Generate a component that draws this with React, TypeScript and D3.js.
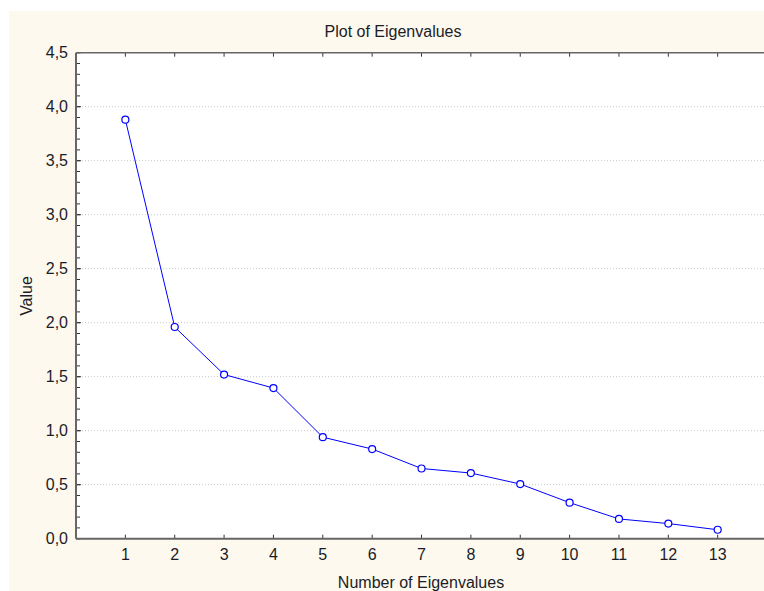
import React from "react";
import * as d3 from "d3";

const eigenNumbers = [1, 2, 3, 4, 5, 6, 7, 8, 9, 10, 11, 12, 13];
const eigenValues = [3.88, 1.96, 1.52, 1.395, 0.94, 0.83, 0.65, 0.608, 0.506, 0.334, 0.183, 0.14, 0.083];
const yTicks = [0, 0.5, 1, 1.5, 2, 2.5, 3, 3.5, 4, 4.5];
const titleText = "Plot of Eigenvalues";
const xLabel = "Number of Eigenvalues";
const yLabel = "Value";

export default function App() {
  const W = 764, H = 591;
  const left = 76, top = 52.7, bottom = 538.7;
  const x = d3.scaleLinear().domain([0, 14]).range([left, left + 14 * 49.36]);
  const y = d3.scaleLinear().domain([0, 4.5]).range([bottom, top]);
  const minor = d3.range(0, 4.5001, 0.1);
  const line = d3.line<number>().x((_, i) => x(eigenNumbers[i])).y((d) => y(d));
  const fmt = (v: number) => d3.format(".1f")(v).replace(".", ",");
  const font = "'Liberation Sans', Arial, sans-serif";
  const fs = 16;
  const tc = "#1c1c28";
  return (
    <svg width={W} height={H} style={{ position: "absolute", left: 0, top: 0, background: "#fff" }}>
      <rect x={9} y={11} width={W - 9} height={H - 11} fill="#fdf9ee" />
      <rect x={left} y={top} width={W - left} height={bottom - top} fill="#fff" />
      {yTicks.filter((t) => t > 0 && t < 4.5).map((t) => (
        <line key={"g" + t} x1={left} x2={W} y1={y(t)} y2={y(t)} stroke="#c8c8c8" strokeDasharray="1,2" />
      ))}
      {minor.map((t, i) => (
        <line key={"m" + i} x1={left} x2={left + 4} y1={y(t)} y2={y(t)} stroke="#333" />
      ))}
      {yTicks.map((t) => (
        <g key={"yt" + t}>
          <line x1={left} x2={left + 5} y1={y(t)} y2={y(t)} stroke="#333" />
          <text x={68} y={y(t)} dy="0.36em" textAnchor="end" fontFamily={font} fontSize={fs} fill={tc}>
            {fmt(t)}
          </text>
        </g>
      ))}
      {eigenNumbers.map((n) => (
        <g key={"xt" + n}>
          <line x1={x(n)} x2={x(n)} y1={bottom} y2={bottom - 4} stroke="#333" />
          <line x1={x(n)} x2={x(n)} y1={top} y2={top + 4} stroke="#333" />
          <text x={x(n)} y={560} textAnchor="middle" fontFamily={font} fontSize={fs} fill={tc}>
            {n}
          </text>
        </g>
      ))}
      <line x1={left} x2={W} y1={top} y2={top} stroke="#666" strokeWidth={1.5} />
      <line x1={left} x2={W} y1={bottom} y2={bottom} stroke="#666" strokeWidth={2} />
      <line x1={left} x2={left} y1={top} y2={bottom} stroke="#666" strokeWidth={2} />
      <path d={line(eigenValues) || ""} fill="none" stroke="#0000ff" strokeWidth={1} />
      {eigenValues.map((v, i) => (
        <circle key={"p" + i} cx={x(eigenNumbers[i])} cy={y(v)} r={3.5} fill="#fff" stroke="#0000ff" strokeWidth={1.2} />
      ))}
      <text x={393} y={37} textAnchor="middle" fontFamily={font} fontSize={fs} fill={tc}>{titleText}</text>
      <text x={421} y={588} textAnchor="middle" fontFamily={font} fontSize={fs} fill={tc}>{xLabel}</text>
      <text transform={`translate(32,296) rotate(-90)`} textAnchor="middle" fontFamily={font} fontSize={fs} fill={tc}>{yLabel}</text>
    </svg>
  );
}
